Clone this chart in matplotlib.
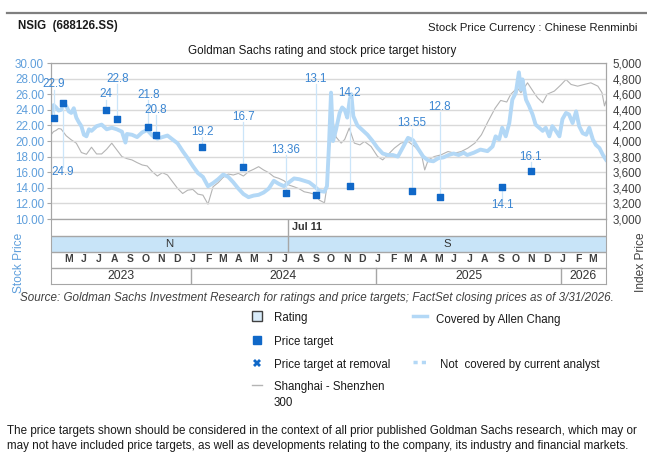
import pandas as pd
import matplotlib.pyplot as plt

plt.rcParams['font.family'] = ['Liberation Sans', 'DejaVu Sans']

START = pd.Timestamp('2023-03-31')
END = pd.Timestamp('2026-03-31')
RATING_CHANGE = pd.Timestamp('2024-07-11')

# NSIG closing price, days after 2023-03-31 (CNY)
stock_days = [0, 5, 10, 15, 20, 25, 30, 35, 40, 45, 50, 55, 60, 65, 70, 75, 80, 90, 100,
              110, 120, 130, 140, 147, 150, 160, 170, 180, 190, 200, 210, 220, 230, 240,
              250, 260, 270, 280, 290, 300, 310, 320, 330, 340, 350, 360, 370, 380, 390,
              400, 410, 420, 430, 440, 450, 460, 470, 480, 490, 500, 510, 520, 530, 540,
              545, 549, 553, 557, 563, 570, 575, 580, 585, 590, 593, 597, 605, 615, 625,
              635, 645, 655, 665, 675, 685, 695, 705, 715, 725, 735, 745, 755, 765, 775,
              785, 795, 805, 815, 822, 835, 848, 862, 872, 878, 885, 891, 898, 905, 911,
              918, 924, 928, 931, 938, 944, 951, 957, 964, 971, 977, 984, 990, 997, 1004,
              1010, 1017, 1023, 1030, 1037, 1043, 1050, 1057, 1063, 1070, 1076, 1083,
              1090, 1096]
stock_price = [23.4, 24.6, 24.3, 23.9, 24.0, 24.8, 24.5, 23.8, 23.6, 24.2, 23.0, 22.4, 21.9,
               20.8, 20.6, 21.5, 21.3, 21.9, 22.1, 21.5, 21.7, 21.5, 21.2, 19.8, 20.9, 20.8,
               20.5, 21.1, 21.4, 20.7, 20.3, 20.5, 20.7, 20.2, 19.7, 18.7, 17.8, 16.8, 15.9,
               15.4, 14.2, 14.6, 15.1, 15.7, 15.4, 14.7, 13.9, 13.2, 12.8, 13.0, 13.1, 13.4,
               13.9, 14.9, 14.5, 14.2, 14.7, 15.2, 15.1, 14.9, 14.7, 14.2, 13.6, 13.5, 14.2,
               19.5, 26.2, 20.0, 21.5, 23.6, 24.3, 24.0, 23.0, 25.3, 26.0, 23.2, 22.0, 21.4,
               20.8, 20.0, 19.1, 18.4, 18.2, 18.2, 18.0, 19.2, 20.4, 20.1, 19.0, 18.0, 17.5,
               17.4, 17.8, 17.9, 18.2, 18.4, 18.2, 18.5, 18.2, 18.5, 18.9, 18.7, 19.3, 20.6,
               20.2, 21.7, 20.6, 22.3, 25.3, 26.2, 28.8, 26.6, 27.9, 25.3, 24.5, 23.4, 22.1,
               21.7, 21.3, 21.7, 20.6, 21.9, 21.3, 20.6, 22.8, 23.6, 23.4, 22.3, 23.8, 21.9,
               21.0, 20.8, 21.7, 20.2, 19.5, 19.1, 18.2, 17.6]

# Shanghai - Shenzhen 300 index, days after 2023-03-31
index_days = [0, 5, 10, 15, 20, 25, 30, 40, 50, 60, 70, 80, 90, 100, 110, 120, 130, 140,
              150, 160, 170, 180, 190, 200, 210, 220, 230, 240, 250, 260, 270, 280, 290,
              300, 310, 320, 330, 340, 350, 360, 370, 380, 390, 400, 410, 420, 430, 440,
              450, 460, 470, 480, 490, 500, 510, 520, 530, 540, 545, 549, 553, 557, 563,
              573, 580, 589, 599, 610, 619, 632, 645, 655, 665, 678, 691, 705, 718, 731,
              738, 745, 757, 770, 784, 797, 810, 823, 837, 850, 863, 877, 888, 900, 908,
              921, 928, 941, 954, 961, 971, 980, 994, 1007, 1017, 1027, 1040, 1053, 1066,
              1080, 1088, 1093, 1096]
index_level = [4080, 4120, 4136, 4160, 4153, 4110, 4067, 4015, 3972, 3852, 3830, 3920, 3834,
               3834, 3895, 3972, 3886, 3800, 3774, 3757, 3723, 3693, 3680, 3607, 3551, 3594,
               3564, 3478, 3392, 3327, 3370, 3379, 3319, 3306, 3190, 3413, 3465, 3534, 3577,
               3564, 3585, 3551, 3607, 3637, 3671, 3628, 3594, 3542, 3521, 3491, 3435, 3413,
               3388, 3349, 3336, 3319, 3242, 3207, 3420, 3900, 4000, 4256, 4050, 3973, 4020,
               4166, 3973, 3950, 3994, 3930, 3801, 3758, 3822, 3908, 3973, 3994, 3930, 3844,
               3629, 3758, 3801, 3822, 3865, 3844, 3865, 3908, 3973, 4080, 4250, 4420, 4520,
               4500, 4600, 4680, 4620, 4746, 4617, 4553, 4490, 4600, 4640, 4720, 4789, 4725,
               4703, 4725, 4746, 4703, 4620, 4450, 4510]

target_dates = ['2023-04-06', '2023-04-23', '2023-07-17', '2023-08-09', '2023-10-09',
                '2023-10-24', '2024-01-24', '2024-04-14', '2024-07-07', '2024-09-04',
                '2024-11-10', '2025-03-12', '2025-05-07', '2025-09-07', '2025-11-02']
target_values = [22.9, 24.9, 24.0, 22.8, 21.8, 20.8, 19.2, 16.7, 13.36, 13.1, 14.2, 13.55,
                 12.8, 14.1, 16.1]
target_labels = ['22.9', '24.9', '24', '22.8', '21.8', '20.8', '19.2', '16.7', '13.36',
                 '13.1', '14.2', '13.55', '12.8', '14.1', '16.1']
label_y = [27.3, 16.0, 26.0, 28.0, 25.9, 24.0, 21.2, 23.1, 18.9, 28.0, 26.1, 22.3, 24.4,
           11.8, 18.0]

ratings = ['N', 'S']
years = ['2023', '2024', '2025', '2026']

LIGHT_BLUE = '#b3d8f6'
DARK_BLUE = '#1068c8'
LABEL_BLUE = '#3b86d2'
BAND_BLUE = '#c8e4f8'
GRID = '#d9d9d9'
EDGE = '#a6a6a6'

W, H = 647, 463


def rect(x0, y0, x1, y1):
    return [x0 / W, 1 - y1 / H, (x1 - x0) / W, (y1 - y0) / H]


fig = plt.figure(figsize=(W / 100, H / 100), dpi=100)

# main price chart
ax = fig.add_axes(rect(51, 63, 606, 219))
ax2 = ax.twinx()
ax.set_zorder(2)
ax2.set_zorder(1)
ax.patch.set_visible(False)

sd = START + pd.to_timedelta(stock_days, unit='D')
idx = START + pd.to_timedelta(index_days, unit='D')
td = pd.to_datetime(target_dates)

ax2.plot(idx, index_level, color='#b4b4b4', lw=0.8)
ax.plot(sd, stock_price, color=LIGHT_BLUE, lw=2.8, solid_joinstyle='round')
for d, v, ly in zip(td, target_values, label_y):
    ax.plot([d, d], [v, ly + (0.7 if ly < v else -0.7)], color='#cbe5f9', lw=0.9, zorder=2)
ax.scatter(td, target_values, marker='s', s=22, color=DARK_BLUE, zorder=4)
for d, ly, t in zip(td, label_y, target_labels):
    ax.text(d, ly, t, ha='center', va='center', fontsize=8.4, color=LABEL_BLUE, zorder=5)

ax.set_xlim(START, END)
ax.set_ylim(10, 30)
ax.set_yticks(range(10, 31, 2))
ax.set_yticklabels([f'{v:.2f}' for v in range(10, 31, 2)])
ax.tick_params(axis='y', colors=EDGE, labelcolor='#5f9fdc', labelsize=8.4, length=3, pad=2)
ax.set_xticks([])
ax.grid(axis='y', color=GRID, lw=1)
ax2.set_ylim(3000, 5000)
ax2.set_yticks(range(3000, 5001, 200))
ax2.set_yticklabels([f'{v:,}' for v in range(3000, 5001, 200)])
ax2.tick_params(axis='y', length=0, labelcolor='#404040', labelsize=8.4, pad=5)
for a in (ax, ax2):
    for s in a.spines.values():
        s.set_color(EDGE)

# rating / month / year band under the chart
axb = fig.add_axes(rect(51, 219, 606, 284))
axb.set_xlim(START, END)
axb.set_ylim(65, 0)
axb.axhspan(17, 33, color=BAND_BLUE, lw=0)
for yy in (17, 33, 48.5):
    axb.axhline(yy, color=EDGE, lw=1)
axb.plot([RATING_CHANGE, RATING_CHANGE], [0, 33], color=EDGE, lw=1)
axb.text(RATING_CHANGE + pd.Timedelta(days=7), 8.5, 'Jul 11', ha='left', va='center',
         fontsize=7.8, fontweight='bold', color='#333333')
axb.text(START + (RATING_CHANGE - START) / 2, 25, ratings[0], ha='center', va='center',
         fontsize=8.2, color='#333333')
axb.text(RATING_CHANGE + (END - RATING_CHANGE) / 2, 25, ratings[1], ha='center', va='center',
         fontsize=8.2, color='#333333')
for m in pd.date_range('2023-05-01', '2026-03-01', freq='MS'):
    axb.text(m + pd.Timedelta(days=3), 40.5, m.strftime('%B')[0], ha='center', va='center',
             fontsize=7.5, fontweight='bold', color='#404040')
bounds = [START, pd.Timestamp('2024-01-01'), pd.Timestamp('2025-01-01'),
          pd.Timestamp('2026-01-01'), END]
for i, y in enumerate(years):
    axb.text(bounds[i] + (bounds[i + 1] - bounds[i]) / 2, 57, y, ha='center', va='center',
             fontsize=8.8, color='#333333')
    if 0 < i:
        axb.plot([bounds[i], bounds[i]], [48.5, 65], color=EDGE, lw=1)
axb.set_xticks([])
axb.set_yticks([])
for s in axb.spines.values():
    s.set_color(EDGE)

# overlay for header, legend, footnotes (pixel coordinates)
ov = fig.add_axes([0, 0, 1, 1])
ov.set_xlim(0, W)
ov.set_ylim(H, 0)
ov.axis('off')
ov.plot([7, 647], [13, 13], color='#7f7f7f', lw=1.6)
ov.text(18, 26, 'NSIG  (688126.SS)', fontsize=8.3, fontweight='bold', va='center', color='#1a1a1a')
ov.text(638, 28, 'Stock Price Currency : Chinese Renminbi', fontsize=8.2, ha='right',
        va='center', color='#1a1a1a')
ov.text(322, 51, 'Goldman Sachs rating and stock price target history', fontsize=8.4,
        ha='center', va='center', color='#1a1a1a')
ov.text(19, 263, 'Stock Price', rotation=90, fontsize=8.6, ha='center', va='center',
        color='#5f9fdc')
ov.text(641, 262, 'Index Price', rotation=90, fontsize=8.6, ha='center', va='center',
        color='#404040')
ov.text(20, 298, 'Source: Goldman Sachs Investment Research for ratings and price targets; '
        'FactSet closing prices as of 3/31/2026.', fontsize=8.4, style='italic',
        va='center', color='#404040')

# legend
ov.plot([257], [316], marker='s', ms=6.5, mfc='#d9ecfa', mec='#404040', mew=1)
ov.plot([257], [340], marker='s', ms=5.5, color=DARK_BLUE)
ov.plot([257], [363], marker='X', ms=6, color=DARK_BLUE, mew=0)
ov.plot([252, 262], [385, 385], color='#b4b4b4', lw=1)
ov.plot([413, 427], [316, 316], color=LIGHT_BLUE, lw=2.5)
ov.plot([413, 428], [362, 362], color=LIGHT_BLUE, lw=2.5, ls=(0, (1.2, 1.2)))
leg_style = dict(fontsize=8.3, va='center', color='#1a1a1a')
ov.text(274, 318, 'Rating', **leg_style)
ov.text(274, 342, 'Price target', **leg_style)
ov.text(274, 365, 'Price target at removal', **leg_style)
ov.text(274, 387, 'Shanghai - Shenzhen', **leg_style)
ov.text(274, 403, '300', **leg_style)
ov.text(436, 320, 'Covered by Allen Chang', **leg_style)
ov.text(440, 365, 'Not  covered by current analyst', **leg_style)

ov.text(7, 431, 'The price targets shown should be considered in the context of all prior '
        'published Goldman Sachs research, which may or', fontsize=8.4, va='center',
        color='#1a1a1a')
ov.text(7, 446, 'may not have included price targets, as well as developments relating to the '
        'company, its industry and financial markets.', fontsize=8.4, va='center',
        color='#1a1a1a')

fig.savefig('out.png', dpi=100)
